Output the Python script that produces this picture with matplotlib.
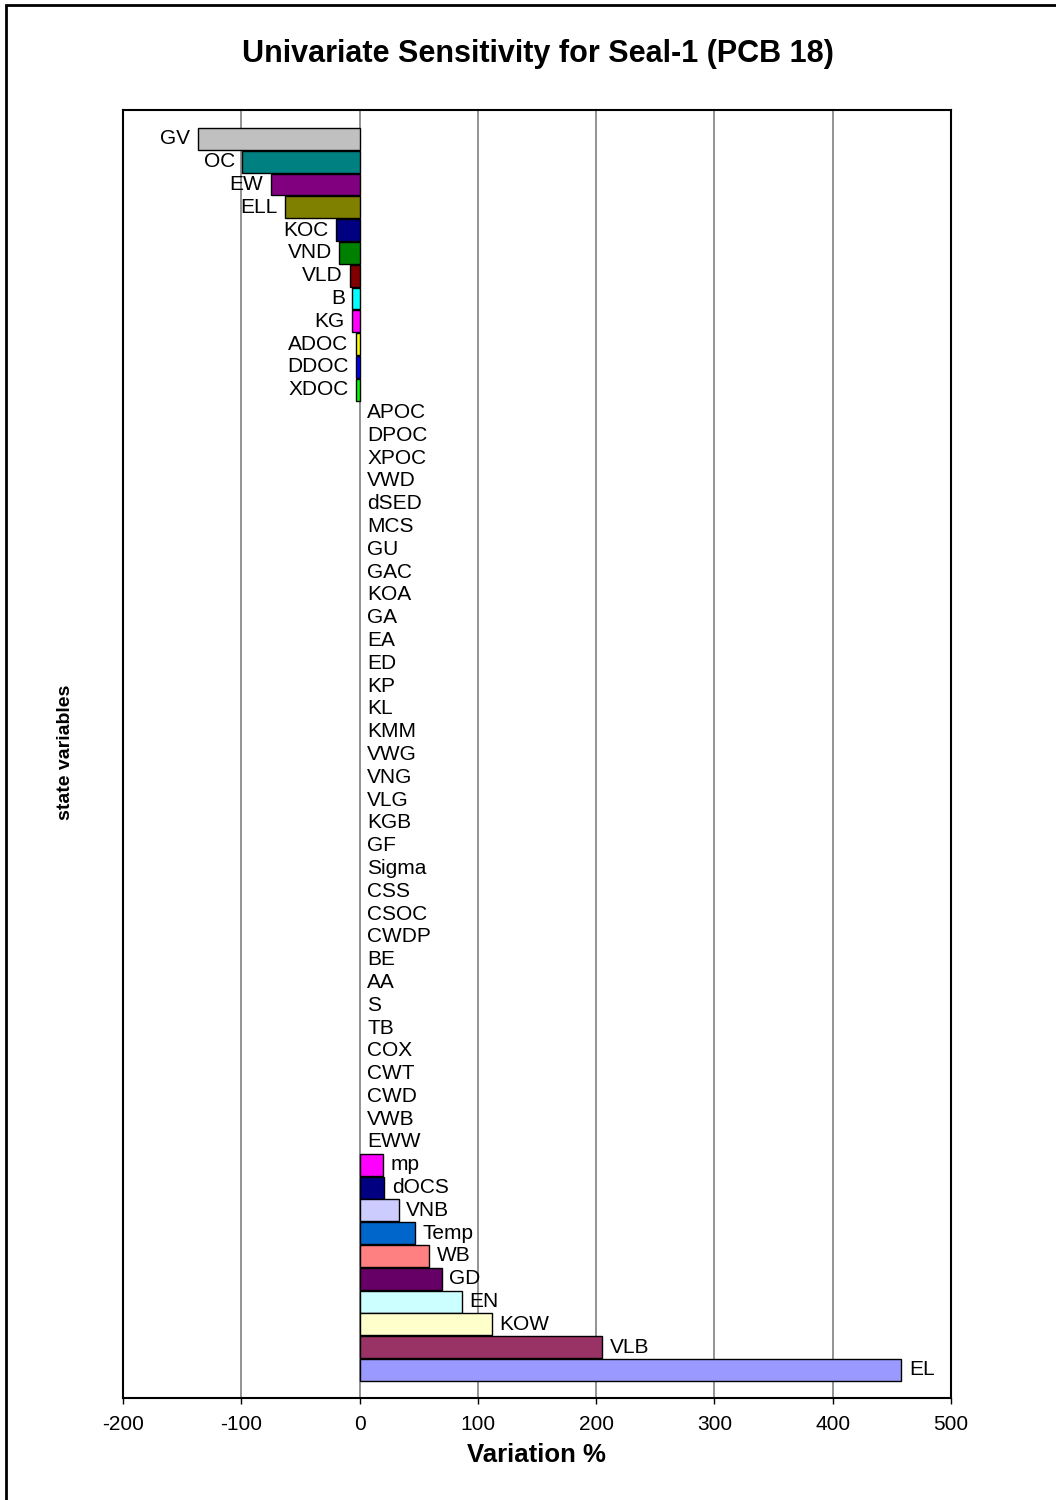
import matplotlib
matplotlib.use("Agg")
import matplotlib.pyplot as plt
from matplotlib.patches import Rectangle

plt.rcParams['font.family'] = ['Liberation Sans', 'DejaVu Sans']

# State variables, top to bottom
variables = [
    "GV", "OC", "EW", "ELL", "KOC", "VND", "VLD", "B", "KG", "ADOC", "DDOC", "XDOC",
    "APOC", "DPOC", "XPOC", "VWD", "dSED", "MCS", "GU", "GAC", "KOA", "GA", "EA", "ED",
    "KP", "KL", "KMM", "VWG", "VNG", "VLG", "KGB", "GF", "Sigma", "CSS", "CSOC", "CWDP",
    "BE", "AA", "S", "TB", "COX", "CWT", "CWD", "VWB", "EWW",
    "mp", "dOCS", "VNB", "Temp", "WB", "GD", "EN", "KOW", "VLB", "EL",
]

# Variation (%) of the model output for each state variable
variation = [
    -137, -99, -75, -63, -20, -17, -8, -6, -6.5, -3, -3, -3,
    0, 0, 0, 0, 0, 0, 0, 0, 0, 0, 0, 0,
    0, 0, 0, 0, 0, 0, 0, 0, 0, 0, 0, 0,
    0, 0, 0, 0, 0, 0, 0, 0, 0,
    19.5, 21, 33, 46.5, 59, 69.5, 86.5, 112, 205, 458,
]

# Fill colours, one per series
bar_colors = [
    "#C0C0C0", "#008080", "#800080", "#808000", "#000080", "#008000", "#800000",
    "#00FFFF", "#FF00FF", "#FFFF00", "#0000FF", "#00FF00",
    "#FF0000", "#FFFFFF", "#000000", "#333333", "#333399", "#993366", "#993300",
    "#333300", "#003300", "#339966", "#003366", "#969696", "#666699", "#FF6600",
    "#FF9900", "#FFCC00", "#99CC00", "#33CCCC", "#3366FF", "#FFCC99", "#CC99FF",
    "#FF99CC", "#99CCFF", "#FFFF99", "#CCFFCC", "#CCFFFF", "#00CCFF", "#0000FF",
    "#008080", "#800000", "#800080", "#00FFFF", "#FFFF00",
    "#FF00FF", "#000080", "#CCCCFF", "#0066CC", "#FF8080", "#660066", "#CCFFFF",
    "#FFFFCC", "#993366", "#9999FF",
]

x_ticks = [-200, -100, 0, 100, 200, 300, 400, 500]

W, H = 1056, 1500
fig = plt.figure(figsize=(W / 100, H / 100), dpi=100)
ax = fig.add_axes([123 / W, 1 - 1398 / H, 828 / W, 1288 / H])

positions = list(range(len(variables)))
edge_widths = [1.0 if v != 0 else 0.0 for v in variation]
ax.barh(positions, variation, height=0.96, color=bar_colors,
        edgecolor="black", linewidth=edge_widths, zorder=3)

for pos, name, val in zip(positions, variables, variation):
    if val < 0:
        ax.annotate(name, xy=(val, pos), xytext=(-5.5, 0), textcoords="offset points",
                    ha="right", va="center", fontsize=15, zorder=4)
    else:
        ax.annotate(name, xy=(val, pos), xytext=(5.5, 0), textcoords="offset points",
                    ha="left", va="center", fontsize=15, zorder=4)

ax.set_xlim(x_ticks[0], x_ticks[-1])
ax.set_ylim(55.23, -1.27)
ax.set_xticks(x_ticks)
ax.set_xticklabels([str(t) for t in x_ticks], fontsize=15)
ax.set_yticks([])
ax.tick_params(axis="x", direction="out", length=4, width=1, pad=8, color="black")
ax.grid(axis="x", color="#808080", linewidth=1.2, zorder=0)
ax.set_axisbelow(True)
for side in ax.spines.values():
    side.set_linewidth(1.5)
    side.set_color("black")

fig.text(538 / W, 1 - 54 / H, "Univariate Sensitivity for Seal-1 (PCB 18)",
         ha="center", va="center", fontsize=22, fontweight="bold")
fig.text(536 / W, 1 - 1455 / H, "Variation %",
         ha="center", va="center", fontsize=18.5, fontweight="bold")
fig.text(66 / W, 1 - 752 / H, "state variables", rotation=90,
         ha="center", va="center", fontsize=14, fontweight="bold")

# Outer chart frame
frame = Rectangle((5.5 / W, -0.5), 2.0, 0.5 + (1 - 5 / H), transform=fig.transFigure,
                  fill=False, edgecolor="black", linewidth=2, clip_on=False)
fig.add_artist(frame)

fig.savefig("out.png", dpi=100, facecolor="white")
